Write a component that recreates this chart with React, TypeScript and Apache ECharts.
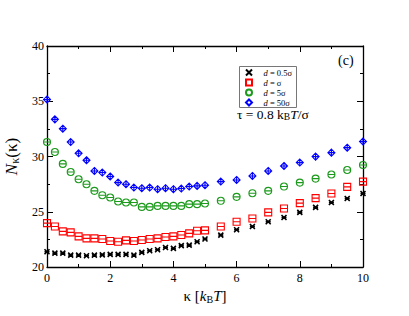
import React, { useEffect, useRef } from "react";
import * as echarts from "echarts";

const KAPPA = [0, 0.25, 0.5, 0.75, 1, 1.25, 1.5, 1.75, 2, 2.25, 2.5, 2.75, 3, 3.25, 3.5, 3.75, 4, 4.25, 4.5, 4.75, 5, 5.5, 6, 6.5, 7, 7.5, 8, 8.5, 9, 9.5, 10];
const D05 = [21.38, 21.26, 21.26, 21.08, 21.08, 21.02, 21.08, 21.1, 21.14, 21.14, 21.14, 21.08, 21.32, 21.47, 21.56, 21.77, 21.68, 21.93, 21.98, 22.28, 22.53, 22.89, 23.37, 23.67, 24.09, 24.48, 24.94, 25.39, 25.84, 26.2, 26.65];
const D1 = [23.97, 23.67, 23.22, 23.13, 22.77, 22.59, 22.59, 22.53, 22.35, 22.29, 22.41, 22.35, 22.44, 22.53, 22.59, 22.71, 22.77, 22.89, 23.04, 23.28, 23.31, 23.67, 24.09, 24.39, 24.94, 25.3, 25.78, 26.23, 26.65, 27.25, 27.73];
const D5 = [31.31, 30.41, 29.33, 28.6, 27.94, 27.49, 26.89, 26.5, 26.29, 25.93, 25.84, 25.84, 25.44, 25.44, 25.53, 25.53, 25.53, 25.53, 25.69, 25.69, 25.75, 25.99, 26.35, 26.68, 26.89, 27.28, 27.64, 28.0, 28.37, 28.78, 29.23];
const D50 = [35.16, 33.36, 32.52, 31.31, 30.29, 29.66, 28.69, 28.55, 28.19, 27.64, 27.49, 27.19, 27.13, 27.19, 27.04, 27.13, 27.04, 27.1, 27.28, 27.34, 27.4, 27.73, 27.88, 28.24, 28.69, 29.14, 29.45, 29.99, 30.35, 30.8, 31.35];

const SERIES_NAMES = ["d = 0.5σ", "d = σ", "d = 5σ", "d = 50σ"];
const SERIES_VALUES = [D05, D1, D5, D50];
const COLORS = ["#000000", "#ff0000", "#1c9a1c", "#0000ff"];
const X_TICKS = [0, 2, 4, 6, 8, 10];
const Y_TICKS = [20, 25, 30, 35, 40];

const SERIF = "'Liberation Serif', 'Times New Roman', serif";

const SYM_MARK = [
  "path://M0,0L10,10M10,0L0,10M0,5H10",
  "path://M0,0H10V10H0ZM0,5H10",
  "path://M0,5A5,5,0,1,1,10,5A5,5,0,1,1,0,5ZM0,5H10",
  "path://M5,0L10,5L5,10L0,5ZM0,5H10M5,0V10",
];
const SYM_LEGEND = [
  "path://M0,0L10,10M10,0L0,10",
  "path://M0,0H10V10H0Z",
  "path://M0,5A5,5,0,1,1,10,5A5,5,0,1,1,0,5Z",
  "path://M5,0L10,5L5,10L0,5Z",
];
const SYM_SIZE = [5, 7, 7, 7];

export default function App() {
  const ref = useRef<HTMLDivElement>(null);
  useEffect(() => {
    if (!ref.current) return;
    const chart = echarts.init(ref.current, null, { renderer: "svg" });
    const grid = { left: 47, right: 46, top: 46, bottom: 49, containLabel: false, outerBoundsMode: "none" };
    const tickStyle = { color: "#000", width: 1 };
    const baseX = {
      type: "value" as const,
      min: 0,
      max: 10,
      interval: 2,
      splitLine: { show: false },
      axisLine: { show: true, onZero: false, lineStyle: { color: "#000", width: 1.3 } },
      axisTick: { show: true, inside: true, length: 6, lineStyle: tickStyle },
      minorTick: { show: true, splitNumber: 2, length: 3, lineStyle: tickStyle },
    };
    const baseY = {
      type: "value" as const,
      min: 20,
      max: 40,
      interval: 5,
      splitLine: { show: false },
      axisLine: { show: true, onZero: false, lineStyle: { color: "#000", width: 1.3 } },
      axisTick: { show: true, inside: true, length: 6, lineStyle: tickStyle },
      minorTick: { show: true, splitNumber: 2, length: 3, lineStyle: tickStyle },
    };
    const nameRich = (size: number, sub: number) => ({
      n: { fontFamily: SERIF, fontSize: size, lineHeight: size + 2, color: "#000" },
      i: { fontFamily: SERIF, fontSize: size, fontStyle: "italic", lineHeight: size + 2, color: "#000" },
      s: { fontFamily: SERIF, fontSize: sub, lineHeight: sub - 3, verticalAlign: "bottom", color: "#000" },
    });
    chart.setOption({
      animation: false,
      backgroundColor: "#ffffff",
      grid,
      xAxis: [
        {
          ...baseX,
          position: "bottom",
          axisLabel: {
            show: true,
            color: "#000",
            fontFamily: SERIF,
            fontSize: 12,
            margin: 5,
            formatter: (v: number) => (X_TICKS.includes(v) ? String(v) : ""),
          },
          name: "{n|κ [}{i|k}{s|B}{i|T}{n|]}",
          nameLocation: "middle",
          nameGap: 18,
          nameTextStyle: { fontFamily: SERIF, color: "#000", fontSize: 15, rich: nameRich(15, 10) },
        },
        { ...baseX, position: "top", axisLabel: { show: false } },
      ],
      yAxis: [
        {
          ...baseY,
          position: "left",
          axisLabel: {
            show: true,
            color: "#000",
            fontFamily: SERIF,
            fontSize: 12,
            margin: 3,
            formatter: (v: number) => (Y_TICKS.includes(v) ? String(v) : ""),
          },
          name: "{i|N}{s|κ}{n|(κ)}",
          nameLocation: "middle",
          nameRotate: 90,
          nameGap: 21,
          nameTextStyle: { fontFamily: SERIF, color: "#000", fontSize: 17, rich: nameRich(17, 12) },
        },
        { ...baseY, position: "right", axisLabel: { show: false } },
      ],
      legend: {
        orient: "vertical",
        left: 243,
        top: 66,
        padding: [2, 2, 2, 2],
        itemWidth: 7,
        itemHeight: 6,
        itemGap: 1,
        data: SERIES_NAMES.map((n, i) => ({ name: n, icon: SYM_LEGEND[i] })),
        formatter: (name: string) => "{i|d}{n|" + name.slice(1) + "}",
        textStyle: {
          fontFamily: SERIF,
          fontSize: 8,
          color: "#000",
          padding: [0, 0, 0, 6],
          rich: {
            i: { fontFamily: SERIF, fontSize: 8.5, fontStyle: "italic", color: "#000" },
            n: { fontFamily: SERIF, fontSize: 8.5, color: "#000" },
          },
        },
      },
      graphic: [
        {
          type: "rect",
          left: 237,
          top: 64,
          shape: { width: 57, height: 41 },
          style: { fill: "none", stroke: "#777", lineWidth: 1 },
          z: 1,
        },
        {
          type: "text",
          left: 237,
          top: 107,
          style: {
            text: "{n|τ = 0.8 k}{s|B}{i|T}{n|/σ}",
            fontFamily: SERIF,
            rich: {
              n: { fontFamily: SERIF, fontSize: 13.5, lineHeight: 15, fill: "#000" },
              i: { fontFamily: SERIF, fontSize: 13.5, fontStyle: "italic", lineHeight: 15, fill: "#000" },
              s: { fontFamily: SERIF, fontSize: 9.5, lineHeight: 6, verticalAlign: "bottom", fill: "#000" },
            },
          },
        },
        {
          type: "text",
          left: 338,
          top: 53,
          style: { text: "(c)", fontFamily: SERIF, fontSize: 14, fill: "#000" },
        },
      ],
      series: SERIES_NAMES.map((name, i) => ({
        name,
        type: "scatter",
        xAxisIndex: 0,
        yAxisIndex: 0,
        data: KAPPA.map((k, j) => [k, SERIES_VALUES[i][j]]),
        symbol: SYM_MARK[i],
        symbolSize: SYM_SIZE[i],
        itemStyle: {
          color: "rgba(0,0,0,0)",
          borderColor: COLORS[i],
          borderWidth: i === 0 ? 1.6 : 1.1,
          opacity: 1,
        },
        z: 3 + i,
      })),
    });
    return () => chart.dispose();
  }, []);
  return (
    <div
      ref={ref}
      style={{ position: "absolute", left: 0, top: 0, width: 409, height: 316, background: "#fff" }}
    />
  );
}
